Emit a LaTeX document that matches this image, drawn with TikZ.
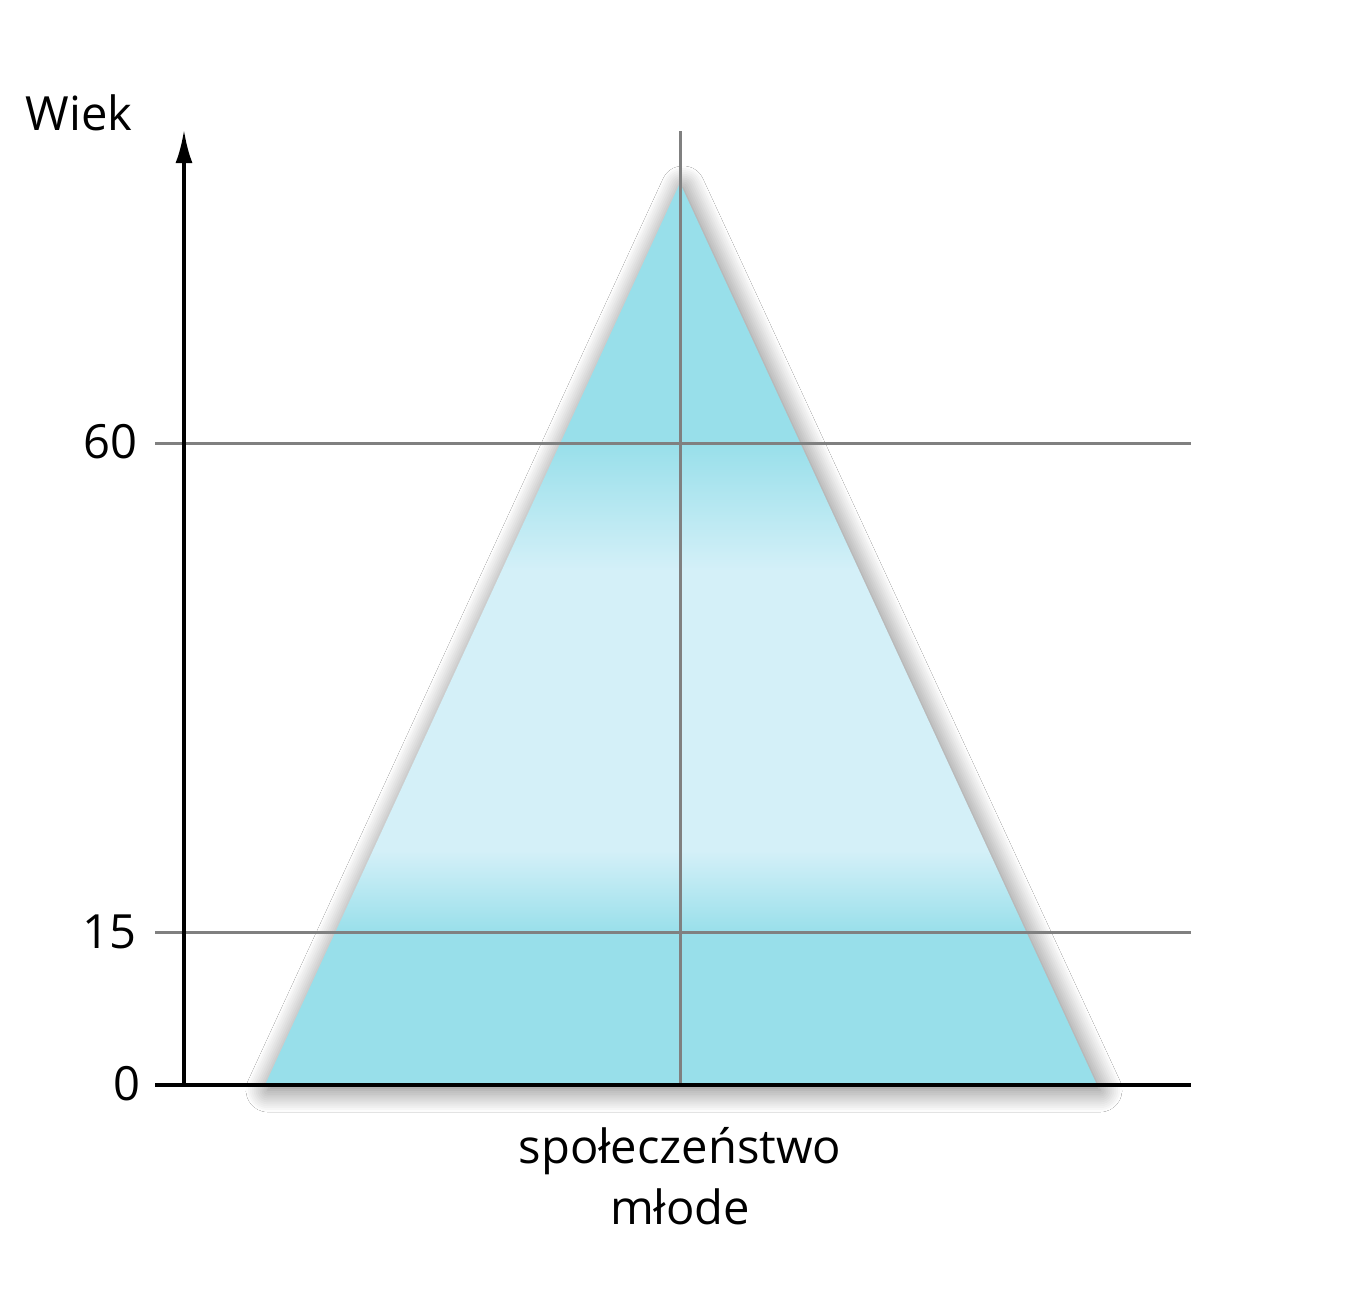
\documentclass[tikz,border=0pt]{standalone}
\usepackage{fontspec}
\setmainfont{Open Sans}
\usetikzlibrary{arrows.meta,shadows.blur}
\definecolor{darkblue}{RGB}{152,223,234}
\definecolor{lightblue}{RGB}{212,240,248}
\definecolor{gridgray}{RGB}{128,128,128}
\pgfdeclareverticalshading{pyr}{100bp}{color(0bp)=(darkblue); color(33.4bp)=(darkblue); color(38bp)=(lightblue); color(53.5bp)=(lightblue); color(60.6bp)=(darkblue); color(100bp)=(darkblue)}
\begin{document}
\begin{tikzpicture}[x=0.01cm,y=-0.01cm,
  lbl/.style={font=\fontsize{13.4pt}{16pt}\selectfont, inner sep=0pt},
  gridline/.style={gridgray, line width=0.85pt},
  axisline/.style={black, line width=1pt}]
\useasboundingbox (0,0) rectangle (1363,1290);
\fill[white] (0,0) rectangle (1363,1290);
% pyramid
\shade[shading=pyr, blur shadow={shadow xshift=0.03cm, shadow yshift=-0.05cm, shadow blur radius=0.22cm, shadow blur steps=12, shadow opacity=55}]
  (680,183) -- (1097,1085) -- (265,1085) -- cycle;
% coordinates
\coordinate (yb) at (184,1086);
\coordinate (yt) at (184,130);
\coordinate (xl) at (155,1085);
\coordinate (xr) at (1191,1085);
\coordinate (h60l) at (155,443);
\coordinate (h60r) at (1191,443);
\coordinate (h15l) at (155,932);
\coordinate (h15r) at (1191,932);
\coordinate (vt) at (680,131);
\coordinate (vb) at (680,1085);
% grid
\draw[gridline] (h60l) -- (h60r);
\draw[gridline] (h15l) -- (h15r);
\draw[gridline] (vt) -- (vb);
% axes
\draw[axisline] (xl) -- (xr);
\draw[axisline, -{Latex[length=0.33cm,width=0.17cm]}] (yb) -- (yt);
% labels
\node[lbl, anchor=base east] (wiek) at (133,130) {Wiek};
\node[lbl, anchor=base east] (l60) at (138,458) {60};
\node[lbl, anchor=base east] (l15) at (137,948) {15};
\node[lbl, anchor=base east] (l0) at (141,1100) {0};
\node[lbl, anchor=base] (cap1) at (680,1163) {społeczeństwo};
\node[lbl, anchor=base] (cap2) at (680,1224) {młode};
\end{tikzpicture}
\end{document}
